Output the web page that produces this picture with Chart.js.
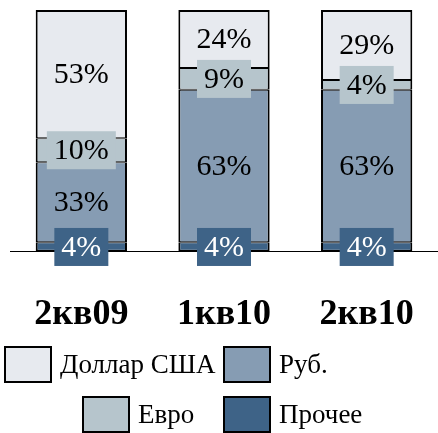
<!DOCTYPE html>
<html>
<head>
<meta charset="utf-8">
<script src="https://cdn.jsdelivr.net/npm/chart.js@4"></script>
<style>
  html, body { margin: 0; padding: 0; background: #fff; }
  #wrap { width: 438px; height: 433px; }
</style>
</head>
<body>
<div id="wrap"><canvas id="shareChart" width="438" height="433"></canvas></div>
<script>
const quarters = ["2кв09", "1кв10", "2кв10"];
const otherShare = [4, 4, 4];
const rubShare = [33, 63, 63];
const eurShare = [10, 9, 4];
const usdShare = [53, 24, 29];
const seriesNames = ["Доллар США", "Руб.", "Евро", "Прочее"];

const SERIF = '"Liberation Serif", "Times New Roman", serif';

// draws the % value inside each segment, with a coloured box for some series
const segmentLabels = {
  id: "segmentLabels",
  afterDatasetsDraw(chart) {
    const ctx = chart.ctx;
    ctx.save();
    ctx.font = "30px " + SERIF;
    ctx.textAlign = "center";
    ctx.textBaseline = "middle";
    chart.data.datasets.forEach((ds, i) => {
      const meta = chart.getDatasetMeta(i);
      meta.data.forEach((bar, j) => {
        const text = ds.data[j] + "%";
        const cy = (bar.y + bar.base) / 2;
        if (ds.labelBox) {
          const w = ctx.measureText(text).width + 14;
          ctx.fillStyle = ds.backgroundColor;
          ctx.fillRect(bar.x - w / 2, cy - 19, w, 38);
        }
        ctx.fillStyle = ds.labelColor;
        ctx.fillText(text, bar.x, cy + 1);
      });
    });
    ctx.restore();
  }
};

// two-row legend laid out like the original
const boxLegend = {
  id: "boxLegend",
  afterDraw(chart) {
    const ctx = chart.ctx;
    const byName = {};
    chart.data.datasets.forEach(ds => { byName[ds.label] = ds; });
    const slots = [
      { name: seriesNames[0], x: 5, y: 347 },
      { name: seriesNames[1], x: 224, y: 347 },
      { name: seriesNames[2], x: 83, y: 397 },
      { name: seriesNames[3], x: 224, y: 397 }
    ];
    ctx.save();
    ctx.font = "27px " + SERIF;
    ctx.textBaseline = "middle";
    ctx.textAlign = "left";
    slots.forEach(s => {
      ctx.fillStyle = byName[s.name].backgroundColor;
      ctx.fillRect(s.x, s.y, 46, 35);
      ctx.strokeStyle = "#000";
      ctx.lineWidth = 2;
      ctx.strokeRect(s.x, s.y, 46, 35);
      ctx.fillStyle = "#000";
      ctx.fillText(s.name, s.x + 55, s.y + 19);
    });
    ctx.restore();
  }
};

function segment(label, data, color, textColor, box, border) {
  return {
    label: label,
    data: data,
    backgroundColor: color,
    borderColor: "#000",
    borderWidth: border,
    borderSkipped: false,
    labelColor: textColor,
    labelBox: box
  };
}

new Chart(document.getElementById("shareChart"), {
  type: "bar",
  data: {
    labels: quarters,
    datasets: [
      segment(seriesNames[3], otherShare, "#3e6387", "#fff", true, { top: 1, bottom: 2, left: 2, right: 2 }),
      segment(seriesNames[1], rubShare, "#869cb3", "#000", false, { top: 1, bottom: 1, left: 2, right: 2 }),
      segment(seriesNames[2], eurShare, "#b6c5cc", "#000", true, { top: 1, bottom: 1, left: 2, right: 2 }),
      segment(seriesNames[0], usdShare, "#e7eaef", "#000", false, { top: 2, bottom: 1, left: 2, right: 2 })
    ]
  },
  options: {
    responsive: false,
    animation: false,
    events: [],
    layout: { padding: { top: 10, left: 10, right: 0, bottom: 56 } },
    datasets: { bar: { barPercentage: 0.64, categoryPercentage: 1 } },
    plugins: { legend: { display: false }, tooltip: { enabled: false } },
    scales: {
      x: {
        stacked: true,
        grid: { display: false, drawTicks: false },
        border: { display: true, color: "#000", width: 1 },
        ticks: {
          color: "#000",
          padding: 41,
          font: { family: SERIF, size: 36, weight: "bold" }
        },
        afterFit(scale) {
          // tick padding should not shrink the plot sideways
          scale.paddingLeft = 0;
          scale.paddingRight = 0;
        }
      },
      y: {
        stacked: true,
        display: false,
        min: 0,
        max: 100
      }
    }
  },
  plugins: [segmentLabels, boxLegend]
});
</script>
</body>
</html>
